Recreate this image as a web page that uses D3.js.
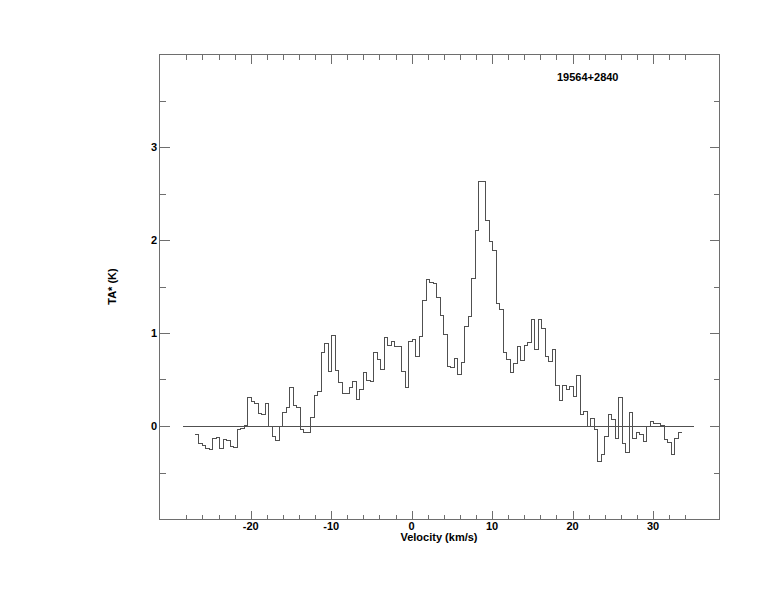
<!DOCTYPE html>
<html>
<head>
<meta charset="utf-8">
<script src="https://cdn.jsdelivr.net/npm/d3@7"></script>
<style>
  html, body { margin: 0; padding: 0; background: #fff; }
  svg text { font-family: "Liberation Sans", Arial, Helvetica, sans-serif; font-weight: bold; fill: #000; }
</style>
</head>
<body>
<svg id="chart" width="774" height="612"></svg>
<script>
// ---- data ----
const sourceName = "19564+2840";
const xAxisTitle = "Velocity (km/s)";
const yAxisTitle = "TA* (K)";
const velocityStart = -26.88;   // left edge of first channel (km/s)
const channelWidth = 0.435;     // km/s
const temperatures = [
  -0.09, -0.19, -0.21, -0.24, -0.25, -0.13, -0.12, -0.24, -0.15, -0.16,
  -0.22, -0.23, -0.04, -0.03, 0.01, 0.31, 0.26, 0.24, 0.13, 0.12,
  0.24, -0.01, -0.11, -0.16, -0.01, 0.14, 0.20, 0.41, 0.22, 0.20,
  -0.04, -0.07, -0.07, 0.09, 0.33, 0.37, 0.79, 0.89, 0.59, 0.97,
  0.60, 0.47, 0.35, 0.35, 0.41, 0.48, 0.28, 0.39, 0.58, 0.49,
  0.48, 0.79, 0.72, 0.61, 0.95, 0.87, 0.91, 0.85, 0.85, 0.59,
  0.41, 0.91, 0.93, 0.75, 0.96, 1.35, 1.58, 1.54, 1.53, 1.38,
  1.19, 0.98, 0.64, 0.63, 0.73, 0.55, 0.68, 1.07, 1.18, 1.59,
  2.10, 2.63, 2.63, 2.21, 1.98, 1.89, 1.32, 1.25, 0.79, 0.72,
  0.57, 0.67, 0.85, 0.70, 0.87, 0.90, 1.15, 0.82, 1.14, 1.05,
  0.75, 0.69, 0.82, 0.44, 0.27, 0.44, 0.39, 0.43, 0.32, 0.54,
  0.12, 0.16, 0.00, 0.08, -0.04, -0.38, -0.31, -0.11, 0.12, 0.07,
  -0.13, 0.31, -0.19, -0.28, 0.14, -0.13, -0.07, -0.09, -0.17, -0.01,
  0.05, 0.03, 0.03, 0.01, -0.15, -0.18, -0.31, -0.13, -0.07
];
const baselineRange = [-28.4, 35.1];
const xDomain = [-31.4, 38.2];
const yDomain = [-1, 4];
const xMajorTicks = [-20, -10, 0, 10, 20, 30];
const xMinorTicks = [-28, -26, -24, -22, -18, -16, -14, -12, -8, -6, -4, -2, 2, 4, 6, 8, 12, 14, 16, 18, 22, 24, 26, 28, 32, 34];
const yMajorTicks = [0, 1, 2, 3];
const yMinorTicks = [-0.5, 0.5, 1.5, 2.5, 3.5];

// ---- layout ----
const L = 159, R = 719, T = 54, B = 519;
const frameColor = "#6e6e6e";
const lineColor = "#505050";

const svg = d3.select("#chart");
const x = d3.scaleLinear().domain(xDomain).range([L, R]);
const y = d3.scaleLinear().domain(yDomain).range([B, T]);

// frame
svg.append("rect")
  .attr("x", L + 0.5).attr("y", T + 0.5)
  .attr("width", R - L).attr("height", B - T)
  .attr("fill", "none").attr("stroke", frameColor).attr("stroke-width", 1)
  .attr("shape-rendering", "crispEdges");

const tickG = svg.append("g").attr("stroke", frameColor).attr("stroke-width", 1)
  .attr("shape-rendering", "crispEdges");

function px(v) { return Math.round(v) + 0.5; }

// x ticks (bottom & top, inward)
xMajorTicks.forEach(v => {
  const xx = px(x(v));
  tickG.append("line").attr("x1", xx).attr("x2", xx).attr("y1", B + 0.5).attr("y2", B + 0.5 - 9);
  tickG.append("line").attr("x1", xx).attr("x2", xx).attr("y1", T + 0.5).attr("y2", T + 0.5 + 9);
});
xMinorTicks.forEach(v => {
  const xx = px(x(v));
  tickG.append("line").attr("x1", xx).attr("x2", xx).attr("y1", B + 0.5).attr("y2", B + 0.5 - 5);
  tickG.append("line").attr("x1", xx).attr("x2", xx).attr("y1", T + 0.5).attr("y2", T + 0.5 + 5);
});
// y ticks (left & right, inward)
yMajorTicks.forEach(v => {
  const yy = px(y(v));
  tickG.append("line").attr("x1", L + 0.5).attr("x2", L + 0.5 + 10).attr("y1", yy).attr("y2", yy);
  tickG.append("line").attr("x1", R + 0.5).attr("x2", R + 0.5 - 10).attr("y1", yy).attr("y2", yy);
});
yMinorTicks.forEach(v => {
  const yy = px(y(v));
  tickG.append("line").attr("x1", L + 0.5).attr("x2", L + 0.5 + 6).attr("y1", yy).attr("y2", yy);
  tickG.append("line").attr("x1", R + 0.5).attr("x2", R + 0.5 - 6).attr("y1", yy).attr("y2", yy);
});

// tick labels
svg.append("g").selectAll("text").data(xMajorTicks).join("text")
  .attr("x", d => x(d)).attr("y", B + 11)
  .attr("text-anchor", "middle").attr("font-size", 11)
  .text(d => d);
svg.append("g").selectAll("text").data(yMajorTicks).join("text")
  .attr("x", L - 2).attr("y", d => y(d) + 4)
  .attr("text-anchor", "end").attr("font-size", 11)
  .text(d => d);

// axis titles
svg.append("text").attr("x", (L + R) / 2).attr("y", B + 22)
  .attr("text-anchor", "middle").attr("font-size", 11).text(xAxisTitle);
svg.append("text")
  .attr("transform", `translate(${116},${(T + B) / 2}) rotate(-90)`)
  .attr("text-anchor", "middle").attr("font-size", 11).text(yAxisTitle);

// source name
svg.append("text").attr("x", 557).attr("y", 81).attr("font-size", 11).text(sourceName);

// baseline
svg.append("line")
  .attr("x1", x(baselineRange[0])).attr("x2", x(baselineRange[1]))
  .attr("y1", px(y(0))).attr("y2", px(y(0)))
  .attr("stroke", lineColor).attr("stroke-width", 1).attr("shape-rendering", "crispEdges");

// spectrum as histogram
const pts = temperatures.map((t, i) => [velocityStart + i * channelWidth, t]);
pts.push([velocityStart + temperatures.length * channelWidth, temperatures[temperatures.length - 1]]);
const line = d3.line()
  .x(d => x(d[0])).y(d => y(d[1]))
  .curve(d3.curveStepAfter);
svg.append("path").datum(pts)
  .attr("d", line)
  .attr("fill", "none").attr("stroke", lineColor).attr("stroke-width", 1)
  .attr("shape-rendering", "crispEdges");
</script>
</body>
</html>
